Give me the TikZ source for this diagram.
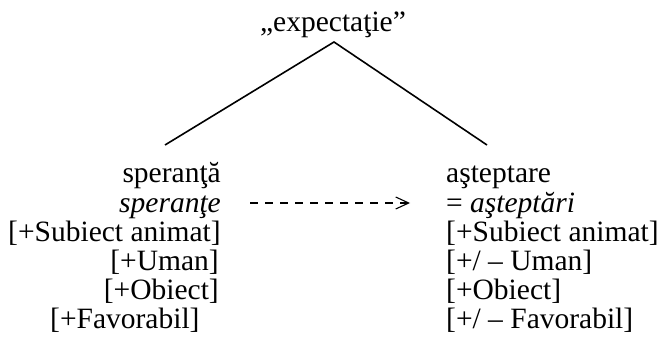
\documentclass[tikz,border=0pt]{standalone}
\usepackage{fontspec}
\setmainfont{Liberation Serif}
\usetikzlibrary{arrows.meta}
\begin{document}
\begin{tikzpicture}[x=1pt,y=-1pt,
  lbl/.style={inner sep=0pt, font=\fontsize{29.5}{29.5}\selectfont},
  branch/.style={line width=1.6pt},
  link/.style={line width=2.4pt, dash pattern=on 8pt off 7pt,
    -{Straight Barb[length=13pt,width=12pt,line width=1.1pt]}}]
\useasboundingbox (0,0) rectangle (660,347);
% root term
\node[lbl,anchor=base] (exp) at (333,32) {„expectaţie”};
% left column
\node[lbl,anchor=base east] (sp)  at (221,183) {speranţă};
\node[lbl,anchor=base east] (spi) at (221,212) {\itshape speranţe};
\node[lbl,anchor=base west] (l1)  at (8,241)   {[+Subiect animat]};
\node[lbl,anchor=base east] (l2)  at (219,270) {[+Uman]};
\node[lbl,anchor=base east] (l3)  at (219,299) {[+Obiect]};
\node[lbl,anchor=base west] (l4)  at (50,328)  {[+Favorabil]};
% right column
\node[lbl,anchor=base west] (as)  at (446,183) {aşteptare};
\node[lbl,anchor=base west] (asi) at (446,212) {= \itshape aşteptări};
\node[lbl,anchor=base west] (r1)  at (446,241) {[+Subiect animat]};
\node[lbl,anchor=base west] (r2)  at (446,270) {[+/ – Uman]};
\node[lbl,anchor=base west] (r3)  at (446,299) {[+Obiect]};
\node[lbl,anchor=base west] (r4)  at (446,328) {[+/ – Favorabil]};
% branches
\coordinate (apex) at (334,42);
\coordinate (lend) at (165,145);
\coordinate (rend) at (487,145);
\draw[branch] (lend) -- (apex) -- (rend);
% dashed link
\draw[link] ([xshift=29pt,yshift=9pt]spi.base east) -- ([xshift=-36pt,yshift=9pt]asi.base west);
\end{tikzpicture}
\end{document}
